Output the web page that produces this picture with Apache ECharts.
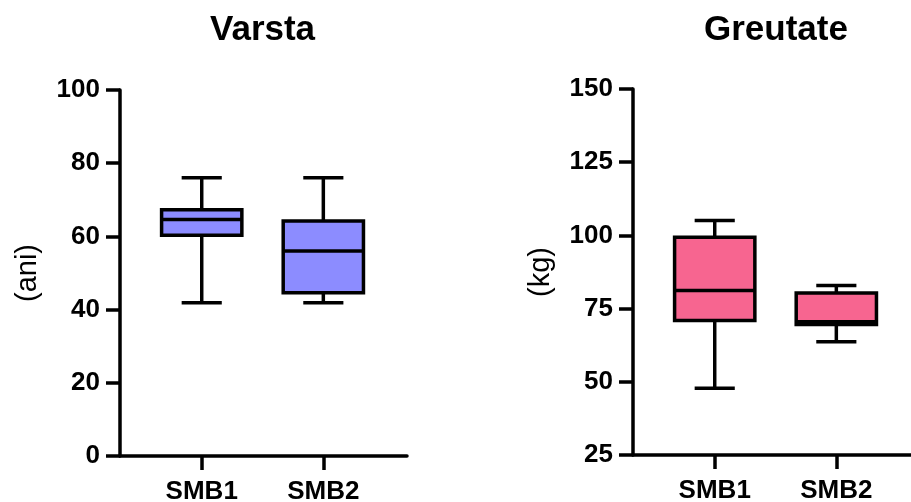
<!DOCTYPE html>
<html>
<head>
<meta charset="utf-8">
<script src="https://cdn.jsdelivr.net/npm/echarts@6/dist/echarts.min.js"></script>
<style>
  html, body { margin: 0; padding: 0; background: #fff; }
  #chart { width: 911px; height: 502px; }
</style>
</head>
<body>
<div id="chart"></div>
<script>
// Groups shown on both panels
const categories = ['SMB1', 'SMB2'];

// Five-number summaries: [min, Q1, median, Q3, max]
const varstaStats = [
  [41.9, 60.3, 64.6, 67.3, 76.0],
  [41.9, 44.6, 56.0, 64.2, 76.0]
];
const greutateStats = [
  [47.8, 70.9, 81.2, 99.4, 105.1],
  [63.7, 69.6, 70.5, 80.3, 82.9]
];

// Y-axis tick values
const varstaTicks = [0, 20, 40, 60, 80, 100];
const greutateTicks = [25, 50, 75, 100, 125, 150];

const FONT = "'Liberation Sans', Arial, sans-serif";
const LW = 3.5;       // stroke width for axes and boxes
const BOX_W = 0.66;   // box width in x-axis units
const CAP_W = 0.33;   // whisker cap width in x-axis units

function toSeriesData(stats) {
  return stats.map((s, i) => [i + 1].concat(s));
}

function boxRenderer(fill) {
  return function (params, api) {
    const x = api.value(0);
    const p = [1, 2, 3, 4, 5].map(i => api.coord([x, api.value(i)]));
    const cx = p[0][0];
    const half = api.size([BOX_W, 0])[0] / 2;
    const capHalf = api.size([CAP_W, 0])[0] / 2;
    const line = { stroke: '#000', lineWidth: LW, lineCap: 'butt' };
    return {
      type: 'group',
      children: [
        { type: 'line', shape: { x1: cx, y1: p[0][1], x2: cx, y2: p[1][1] }, style: line },
        { type: 'line', shape: { x1: cx, y1: p[3][1], x2: cx, y2: p[4][1] }, style: line },
        { type: 'line', shape: { x1: cx - capHalf, y1: p[0][1], x2: cx + capHalf, y2: p[0][1] }, style: line },
        { type: 'line', shape: { x1: cx - capHalf, y1: p[4][1], x2: cx + capHalf, y2: p[4][1] }, style: line },
        { type: 'rect', shape: { x: cx - half, y: p[3][1], width: half * 2, height: p[1][1] - p[3][1] },
          style: { fill: fill, stroke: '#000', lineWidth: LW } },
        { type: 'line', shape: { x1: cx - half, y1: p[2][1], x2: cx + half, y2: p[2][1] }, style: line }
      ]
    };
  };
}

function xAxisFor(gridIndex) {
  return {
    type: 'value', gridIndex: gridIndex,
    min: 0.328, max: 2.688,
    axisLine: { show: true, onZero: false, lineStyle: { color: '#000', width: LW } },
    axisTick: { show: true, customValues: [1, 2], length: 14, lineStyle: { color: '#000', width: LW } },
    axisLabel: {
      customValues: [1, 2], margin: 23,
      formatter: v => categories[Math.round(v) - 1] || '',
      color: '#000', fontSize: 26, fontWeight: 'bold', fontFamily: FONT
    },
    splitLine: { show: false }
  };
}

function yAxisFor(gridIndex, ticks, name) {
  return {
    type: 'value', gridIndex: gridIndex,
    min: ticks[0], max: ticks[ticks.length - 1], interval: ticks[1] - ticks[0],
    name: name, nameLocation: 'middle', nameGap: 78, nameRotate: 90,
    nameTextStyle: { color: '#000', fontSize: 29, fontFamily: FONT },
    axisLine: { show: true, lineStyle: { color: '#000', width: LW } },
    axisTick: { show: true, length: 14, lineStyle: { color: '#000', width: LW } },
    axisLabel: { margin: 20, color: '#000', fontSize: 26, fontWeight: 'bold', fontFamily: FONT },
    splitLine: { show: false }
  };
}

const chart = echarts.init(document.getElementById('chart'), null, { renderer: 'canvas' });
chart.setOption({
  backgroundColor: '#fff',
  animation: false,
  title: [
    { text: 'Varsta', left: 210, top: 13, padding: 0,
      textStyle: { color: '#000', fontSize: 35, fontWeight: 'bold', fontFamily: FONT } },
    { text: 'Greutate', left: 704, top: 13, padding: 0,
      textStyle: { color: '#000', fontSize: 35, fontWeight: 'bold', fontFamily: FONT } }
  ],
  grid: [
    { left: 120, top: 90, width: 287, height: 366, outerBoundsMode: 'none', containLabel: false },
    { left: 633, top: 89, width: 287, height: 366, outerBoundsMode: 'none', containLabel: false }
  ],
  xAxis: [xAxisFor(0), xAxisFor(1)],
  yAxis: [yAxisFor(0, varstaTicks, '(ani)'), yAxisFor(1, greutateTicks, '(kg)')],
  series: [
    {
      type: 'custom', name: 'Varsta', xAxisIndex: 0, yAxisIndex: 0,
      encode: { x: 0, y: [1, 2, 3, 4, 5] },
      renderItem: boxRenderer('#8c8cff'),
      data: toSeriesData(varstaStats)
    },
    {
      type: 'custom', name: 'Greutate', xAxisIndex: 1, yAxisIndex: 1,
      encode: { x: 0, y: [1, 2, 3, 4, 5] },
      renderItem: boxRenderer('#f76590'),
      data: toSeriesData(greutateStats)
    }
  ]
});
</script>
</body>
</html>
